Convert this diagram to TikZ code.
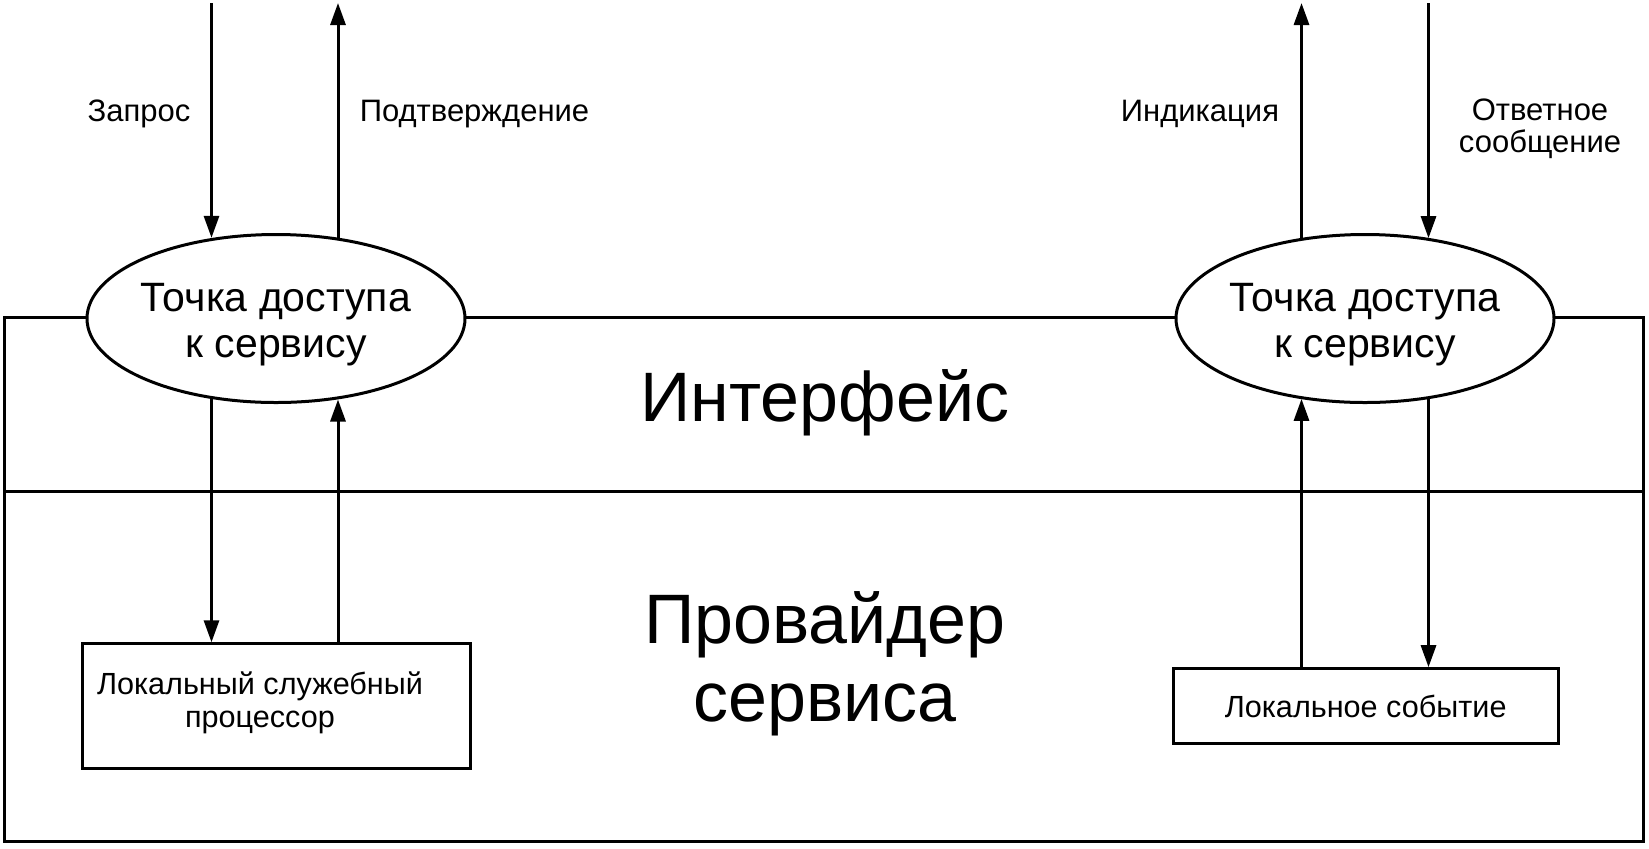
\documentclass[tikz,border=0pt]{standalone}
\usepackage{fontspec}
\setmainfont{Liberation Sans}
\usetikzlibrary{arrows.meta,shapes.geometric}
\begin{document}
\begin{tikzpicture}[x=0.5pt,y=-0.5pt,line width=1.5pt,
  arr/.style={-{Triangle[length=11pt,width=7.5pt]}},
  sap/.style={ellipse,draw,fill=white,minimum width=189pt,minimum height=84pt,inner sep=0pt},
  saptext/.style={align=center,inner sep=0pt,font=\fontsize{20.5pt}{23pt}\selectfont},
  lbox/.style={draw,rectangle,inner sep=0pt},
  lbl/.style={align=center,inner sep=0pt,anchor=base,font=\fontsize{15.5pt}{16pt}\selectfont},
  boxtxt/.style={align=center,inner sep=0pt,font=\fontsize{15.3pt}{16.5pt}\selectfont},
  big/.style={align=center,inner sep=0pt,anchor=base,font=\fontsize{35pt}{39.3pt}\selectfont}]
\useasboundingbox (0,0) rectangle (1649,848);
% outer frame and divider
\draw (4.5,317.5) rectangle (1643,841.5);
\draw (4.5,491.7) -- (1643,491.7);
% service access points
\node[sap] (L) at (276,318.5) {};
\node[sap] (R) at (1365,318.5) {};
\node[saptext] (Lt) at ([yshift=-3pt]L.center) {Точка доступа\\к сервису};
\node[saptext] (Rt) at ([yshift=-3pt]R.center) {Точка доступа\\к сервису};
% boxes
\node[lbox,minimum width=193.9pt,minimum height=62.4pt] (BL) at (276.4,706.2) {};
\node[boxtxt] (BLt) at (260,703) {Локальный служебный\\процессор};
\node[lbox,boxtxt,minimum width=192.4pt,minimum height=37.4pt] (BR) at (1365.7,706.1) {Локальное событие};
% section titles
\node[big] (iface) at (825,421.7) {Интерфейс};
\node[big] (prov) at (825,721.7) {Провайдер\\сервиса};
% top coordinates
\coordinate (t1) at (211.5,3);
\coordinate (t2) at (338,3);
\coordinate (t3) at (1301.5,3);
\coordinate (t4) at (1428.5,3);
% top arrows
\draw[arr] (t1) -- (t1 |- L.128.7);
\draw[arr] (t2 |- L.52.5) -- (t2);
\draw[arr] (t3 |- R.128.2) -- (t3);
\draw[arr] (t4) -- (t4 |- R.51.8);
% lower arrows
\draw[arr] (t1 |- L.231.3) -- (t1 |- BL.north);
\draw[arr] (t2 |- BL.north) -- (t2 |- L.307.5);
\draw[arr] (t3 |- BR.north) -- (t3 |- R.231.8);
\draw[arr] (t4 |- R.308.2) -- (t4 |- BR.north);
% labels
\node[lbl] (q) at (139,121) {Запрос};
\node[lbl] (c) at (474.5,121) {Подтверждение};
\node[lbl] (ind) at (1200,121) {Индикация};
\node[lbl] (resp) at (1540,152) {Ответное\\сообщение};
\end{tikzpicture}
\end{document}
